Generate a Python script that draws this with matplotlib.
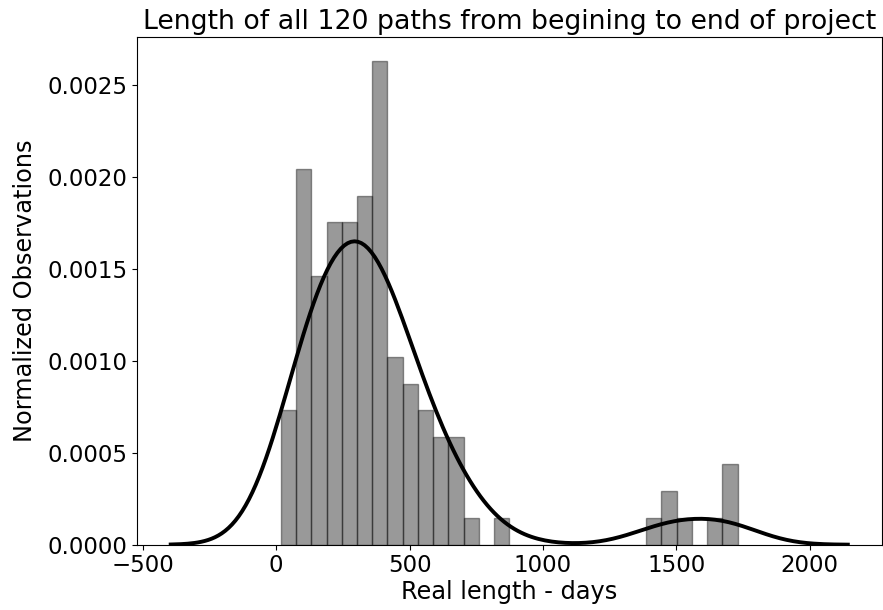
import numpy as np
import matplotlib
matplotlib.use("Agg")
import matplotlib.pyplot as plt

# 120 paths, 30 bins between shortest and longest path (days)
n_paths = 120
min_len = 18
max_len = 1730
counts = [5, 14, 10, 12, 12, 13, 18, 7, 6, 5, 4, 4, 1, 0, 1,
          0, 0, 0, 0, 0, 0, 0, 0, 0, 1, 2, 1, 0, 1, 3]

edges = np.linspace(min_len, max_len, len(counts) + 1)
centers = (edges[:-1] + edges[1:]) / 2
samples = np.repeat(centers, counts)


def gaussian_kde(x, grid):
    # scott bandwidth, like seaborn
    bw = x.std(ddof=1) * len(x) ** (-1 / 5)
    z = (grid[:, None] - x[None, :]) / bw
    dens = np.exp(-0.5 * z ** 2).sum(axis=1) / (len(x) * bw * np.sqrt(2 * np.pi))
    return dens, bw


_, bw = gaussian_kde(samples, np.array([0.0]))
# curve cut 3 bandwidths past the shortest / longest path
grid = np.linspace(min_len - 3 * bw, max_len + 3 * bw, 200)
dens, _ = gaussian_kde(samples, grid)

fig = plt.figure(figsize=(8.83, 6.10), dpi=100)
ax = fig.add_axes([0.155, 0.107, 0.8435, 0.832])

ax.hist(centers, bins=edges, weights=counts, density=True,
        color="k", alpha=0.4, edgecolor="k", linewidth=1)
ax.plot(grid, dens, color="k", linewidth=2.8)

ax.set_title("Length of all 120 paths from begining to end of project", fontsize=19.3)
ax.set_xlabel("Real length - days", fontsize=17.3, labelpad=2)
ax.set_ylabel("Normalized Observations", fontsize=17.3, labelpad=7)
ax.tick_params(labelsize=16.5)
ax.set_ylim(bottom=0)

fig.savefig("out.png", dpi=100)
